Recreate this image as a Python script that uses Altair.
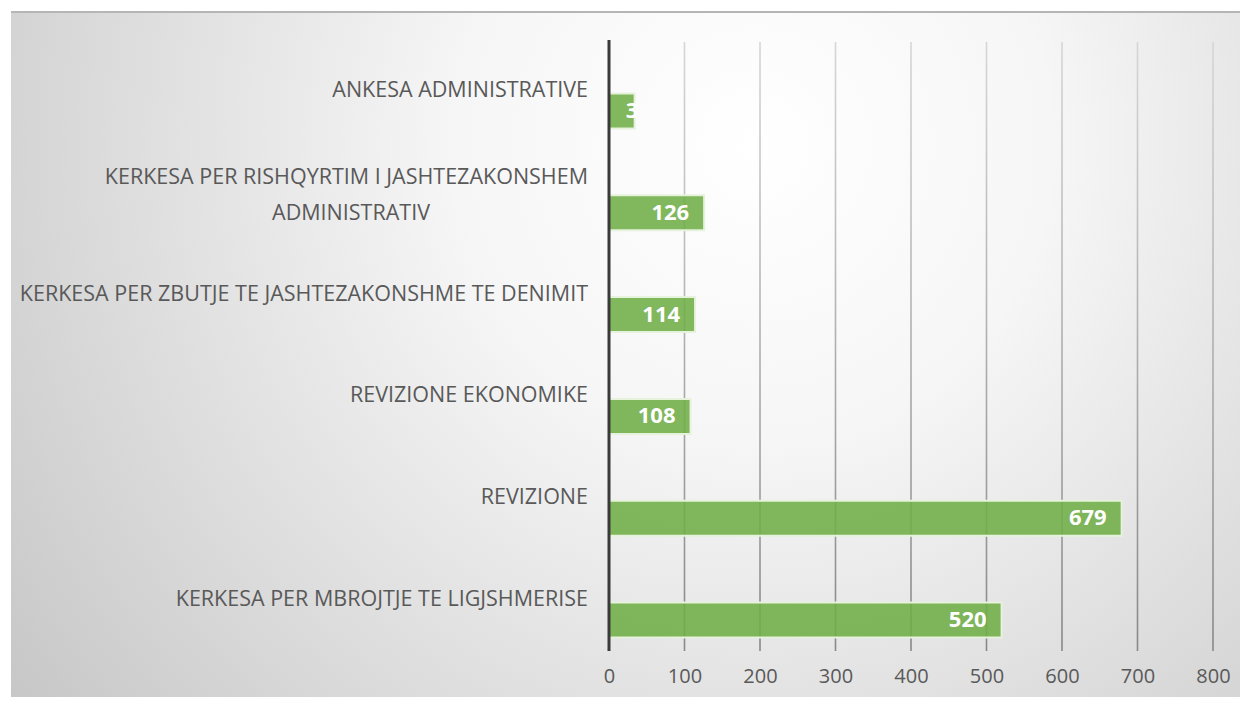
import altair as alt
import pandas as pd

categories = [
    "ANKESA ADMINISTRATIVE",
    "KERKESA PER RISHQYRTIM I JASHTEZAKONSHEM ADMINISTRATIV",
    "KERKESA PER ZBUTJE TE JASHTEZAKONSHME TE DENIMIT",
    "REVIZIONE EKONOMIKE",
    "REVIZIONE",
    "KERKESA PER MBROJTJE TE LIGJSHMERISE",
]
line1 = [
    "ANKESA ADMINISTRATIVE",
    "KERKESA PER RISHQYRTIM I JASHTEZAKONSHEM",
    "KERKESA PER ZBUTJE TE JASHTEZAKONSHME TE DENIMIT",
    "REVIZIONE EKONOMIKE",
    "REVIZIONE",
    "KERKESA PER MBROJTJE TE LIGJSHMERISE",
]
line2 = ["", "ADMINISTRATIV", "", "", "", ""]
values = [34, 126, 114, 108, 679, 520]
value_labels = ["3", "126", "114", "108", "679", "520"]
x_ticks = [0, 100, 200, 300, 400, 500, 600, 700, 800]

df = pd.DataFrame({"cat": categories, "line1": line1, "line2": line2,
                   "value": values, "label": value_labels})
ticks_df = pd.DataFrame({"t": x_ticks})

FONT = "Open Sans"
W, H = 604, 611
CAT_SIZE = 21.5

x_axis = alt.Axis(values=x_ticks, grid=False, domain=False, ticks=False,
                  labelPadding=15, labelFontSize=20, labelColor="#595959",
                  labelFont=FONT, labelFlush=False, title=None, zindex=1)
x_scale = alt.Scale(domain=[0, 800], nice=False, zero=True, padding=0)
y_scale = alt.Scale(paddingInner=0, paddingOuter=0)


def xenc(field):
    return alt.X(field, type="quantitative", scale=x_scale, axis=x_axis)


def yenc():
    return alt.Y("cat:N", sort=categories, scale=y_scale, axis=None)


bg = alt.Chart(alt.Data(values=[{"a": 1}])).mark_rect(
    color=alt.RadialGradient(
        gradient="radial",
        stops=[alt.GradientStop(offset=0, color="#ffffff"),
               alt.GradientStop(offset=0.3, color="#f6f6f6"),
               alt.GradientStop(offset=1, color="#c2c2c2")],
        x1=0.6, y1=0.33, x2=0.6, y2=0.33, r1=0, r2=0.8),
).encode(x=alt.value(-598), x2=alt.value(640), y=alt.value(-28), y2=alt.value(660))

frame_top = alt.Chart(alt.Data(values=[{"a": 1}])).mark_rule(
    color="#b5b5b5", strokeWidth=2
).encode(x=alt.value(-598), x2=alt.value(640), y=alt.value(-28))

grid = alt.Chart(ticks_df).transform_filter("datum.t > 0").mark_bar(
    orient="vertical", size=1.6,
    color=alt.LinearGradient(
        gradient="linear",
        stops=[alt.GradientStop(offset=0, color="#d6d6d6"),
               alt.GradientStop(offset=1, color="#888888")],
        x1=0, y1=0, x2=0, y2=1),
).encode(x=xenc("t"), y=alt.value(2), y2=alt.value(H))

bars = alt.Chart(df).mark_bar(
    size=35, yOffset=20, fill="#70AD47", fillOpacity=0.88,
    stroke="#e6f2dc", strokeWidth=2
).encode(x=xenc("value"), y=yenc())

bar_labels = alt.Chart(df).transform_filter("datum.value >= 60").mark_text(
    align="right", baseline="middle", dx=-15, yOffset=20,
    font=FONT, fontSize=22, fontWeight="bold", color="#ffffff"
).encode(x=xenc("value"), y=yenc(), text="label:N")

bar_labels_small = alt.Chart(df).transform_filter("datum.value < 60").mark_text(
    align="left", baseline="middle", dx=-9, yOffset=20,
    font=FONT, fontSize=22, fontWeight="bold", color="#ffffff"
).encode(x=xenc("value"), y=yenc(), text="label:N")

zero_line = alt.Chart(ticks_df).transform_filter("datum.t == 0").mark_rule(
    color="#3a3a3a", strokeWidth=3
).encode(x=xenc("t"))

cat_single = alt.Chart(df).transform_filter("datum.line2 == ''").mark_text(
    align="right", baseline="middle", font=FONT, fontSize=CAT_SIZE, color="#595959"
).encode(x=alt.value(-21), y=yenc(), text="line1:N")

cat_first = alt.Chart(df).transform_filter("datum.line2 != ''").mark_text(
    align="right", baseline="middle", dy=-15, font=FONT, fontSize=CAT_SIZE, color="#595959"
).encode(x=alt.value(-21), y=yenc(), text="line1:N")

cat_second = alt.Chart(df).transform_filter("datum.line2 != ''").mark_text(
    align="center", baseline="middle", dy=21, font=FONT, fontSize=CAT_SIZE, color="#595959"
).encode(x=alt.value(-258), y=yenc(), text="line2:N")

chart = alt.layer(
    bg, frame_top, grid, bars, bar_labels, bar_labels_small, zero_line,
    cat_single, cat_first, cat_second
).properties(
    width=W, height=H,
    autosize=alt.AutoSizeParams(type="none"),
    padding={"left": 601, "top": 32, "right": 27, "bottom": 46},
    background="#ffffff",
).configure_view(stroke=None)

chart.save("out.html", embed_options={"renderer": "svg", "actions": False})
